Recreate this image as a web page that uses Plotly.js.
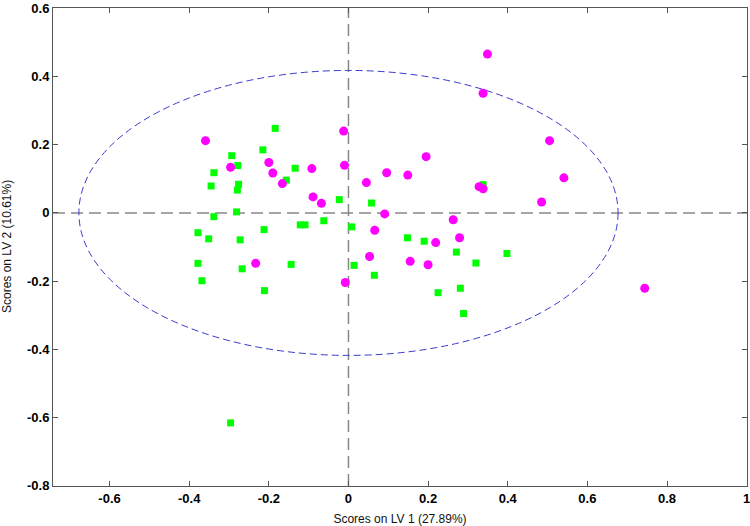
<!DOCTYPE html>
<html><head><meta charset="utf-8">
<script src="https://cdn.plot.ly/plotly-3.0.1.min.js"></script>
<style>body{margin:0;background:#fff}#chart{width:750px;height:526px}</style>
</head><body><div id="chart"></div>
<script>
// Class 1 (magenta circles)
const magentaX = [-0.359,-0.296,-0.200,-0.190,-0.166,-0.092,-0.089,-0.068,-0.012,-0.010,-0.233,-0.008,
  0.349,0.338,0.505,0.195,0.096,0.149,0.045,0.541,0.328,0.338,0.485,0.091,0.263,0.066,0.279,0.219,0.053,0.155,0.200,0.744];
const magentaY = [0.212,0.134,0.148,0.117,0.086,0.130,0.047,0.028,0.240,0.140,-0.148,-0.204,
  0.466,0.351,0.212,0.165,0.118,0.111,0.089,0.103,0.077,0.071,0.032,-0.003,-0.020,-0.051,-0.073,-0.087,-0.128,-0.142,-0.152,-0.221];
// Class 2 (green squares)
const greenX = [-0.184,-0.215,-0.293,-0.278,-0.338,-0.345,-0.276,-0.279,-0.134,-0.156,-0.023,-0.281,-0.338,-0.062,
  -0.121,-0.109,-0.212,-0.378,-0.351,-0.272,-0.378,-0.144,-0.267,-0.368,-0.211,-0.296,
  0.338,0.058,0.008,0.148,0.190,0.271,0.398,0.320,0.014,0.065,0.225,0.281,0.289];
const greenY = [0.248,0.185,0.168,0.139,0.118,0.079,0.084,0.067,0.131,0.096,0.039,0.003,-0.011,-0.023,
  -0.035,-0.035,-0.049,-0.058,-0.076,-0.079,-0.148,-0.151,-0.164,-0.199,-0.228,-0.616,
  0.083,0.029,-0.041,-0.073,-0.083,-0.115,-0.119,-0.147,-0.154,-0.183,-0.234,-0.221,-0.295];
// Confidence ellipse semi-axes
const ellipseAxes = [0.677, 0.418];
const xTicks = [-0.6,-0.4,-0.2,0,0.2,0.4,0.6,0.8,1];
const yTicks = [-0.8,-0.6,-0.4,-0.2,0,0.2,0.4,0.6];
const xTitle = 'Scores on LV 1 (27.89%)';
const yTitle = 'Scores on LV 2 (10.61%)';

const traces = [
  {x: greenX, y: greenY, type:'scatter', mode:'markers', name:'Class 2',
   marker:{symbol:'square', size:7, color:'#00ff00'}},
  {x: magentaX, y: magentaY, type:'scatter', mode:'markers', name:'Class 1',
   marker:{symbol:'circle', size:9, color:'#ff00ff'}}
];
const font = 'Liberation Sans, Arial, sans-serif';
const axisCommon = {
  showgrid:false, zeroline:false, showline:true, linecolor:'#555', linewidth:1,
  mirror:'ticks', ticks:'inside', ticklen:5, tickcolor:'#555', ticklabeloverflow:'allow',
  tickfont:{family:font, size:13, color:'#000', weight:'bold'}
};
const layout = {
  width:750, height:526,
  margin:{l:53, r:3, t:8, b:40},
  paper_bgcolor:'#fff', plot_bgcolor:'#fff',
  showlegend:false,
  xaxis: Object.assign({}, axisCommon, {range:[-0.742, 1.0008], tickvals:xTicks, ticktext:xTicks.map(String),
    title:{text:xTitle, standoff:10, font:{family:font, size:12, color:'#111'}}}),
  yaxis: Object.assign({}, axisCommon, {range:[-0.8012, 0.6012], tickvals:yTicks, ticktext:yTicks.map(String)}),
  annotations: [
    {text:yTitle, xref:'paper', yref:'paper', x:0, y:0.5, xanchor:'center', yanchor:'middle',
     xshift:-46, textangle:-90, showarrow:false, font:{family:font, size:12, color:'#111'}}
  ],
  shapes: [
    {type:'line', xref:'paper', yref:'y', x0:0, x1:1, y0:0, y1:0, line:{color:'#888', width:1.5, dash:'12px,6px'}, layer:'below'},
    {type:'line', xref:'x', yref:'paper', x0:0, x1:0, y0:0, y1:1, line:{color:'#888', width:1.5, dash:'12px,6px'}, layer:'below'},
    {type:'circle', xref:'x', yref:'y', x0:-ellipseAxes[0], x1:ellipseAxes[0], y0:-ellipseAxes[1], y1:ellipseAxes[1],
     line:{color:'#3a3acc', width:1, dash:'7px,4px'}, layer:'below'}
  ]
};
Plotly.newPlot('chart', traces, layout, {displayModeBar:false, staticPlot:true});
</script></body></html>
